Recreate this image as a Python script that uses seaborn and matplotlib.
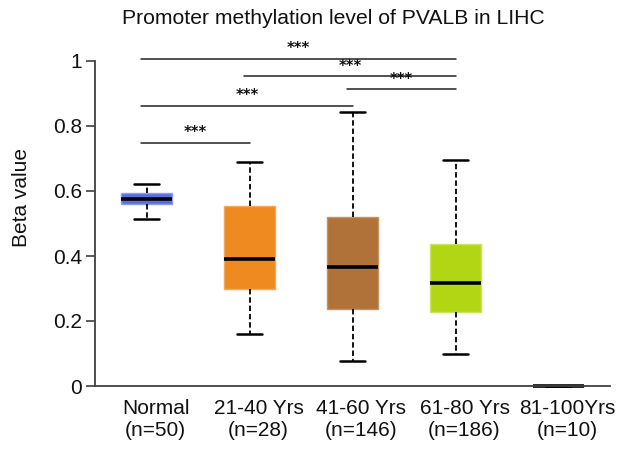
import numpy as np
import pandas as pd
import matplotlib
matplotlib.use("Agg")
import matplotlib.pyplot as plt
import matplotlib.transforms as mtransforms
import seaborn as sns

# Five-number summaries (min, Q1, median, Q3, max) of promoter beta values
groups = ["Normal", "21-40 Yrs", "41-60 Yrs", "61-80 Yrs", "81-100Yrs"]
counts = [50, 28, 146, 186, 10]
normal = [0.514, 0.559, 0.576, 0.593, 0.622]
age_21_40 = [0.160, 0.298, 0.392, 0.554, 0.688]
age_41_60 = [0.077, 0.237, 0.366, 0.521, 0.842]
age_61_80 = [0.098, 0.229, 0.316, 0.437, 0.695]
age_81_100 = [0.001, 0.001, 0.001, 0.001, 0.001]
colors = ["#5B6EE1", "#EF8A21", "#B07238", "#B3D614", "#1a1a1a"]
edge_colors = ["#8E9CF0", "#F3A85A", "#C59363", "#C9E65C", "#1a1a1a"]

# Significance brackets: (group a, group b, height, label)
sig_pairs = [(0, 1, 0.748, "***"), (0, 2, 0.862, "***"), (2, 3, 0.913, "***"),
             (1, 3, 0.953, "***"), (0, 3, 1.006, "***")]

yticks = [0, 0.2, 0.4, 0.6, 0.8, 1.0]
ytick_labels = ["0", "0.2", "0.4", "0.6", "0.8", "1"]

series = [normal, age_21_40, age_41_60, age_61_80, age_81_100]
df = pd.DataFrame({
    "group": np.repeat(groups, [len(s) for s in series]),
    "value": np.concatenate(series),
})

sns.set_style("ticks")
plt.rcParams["font.family"] = ["Liberation Sans", "DejaVu Sans"]

fig = plt.figure(figsize=(6.22, 4.58), dpi=100)
ax = fig.add_axes([95 / 622, 72 / 458, 515 / 622, 325 / 458])

sns.boxplot(
    data=df, x="group", y="value", hue="group", order=groups, hue_order=groups,
    palette=colors, saturation=1, whis=(0, 100), width=0.5, legend=False, ax=ax,
    linewidth=1.2,
    medianprops=dict(color="black", linewidth=2.6),
    whiskerprops=dict(color="black", linewidth=1.3, linestyle=(0, (3, 1.6))),
    capprops=dict(color="black", linewidth=1.8),
    showfliers=False,
)

for patch, ec in zip(ax.patches, edge_colors):
    patch.set_edgecolor(ec)
    patch.set_linewidth(1.0)
for artist in list(ax.lines) + list(ax.patches):
    artist.set_clip_on(False)

ax.set_xlim(-0.5, 4.5)
ax.set_ylim(0, 1)
ax.set_yticks(yticks)
ax.set_yticklabels(ytick_labels)
ax.set_xticks(range(len(groups)))
ax.set_xticklabels([f"{g}\n(n={n})" for g, n in zip(groups, counts)],
                   linespacing=1.25)
ax.tick_params(axis="x", length=0, pad=9, labelsize=15, colors="#111111")
ax.tick_params(axis="y", length=6.5, width=1.2, pad=3, labelsize=15,
               colors="#404040", labelcolor="#111111")
shift = mtransforms.ScaledTranslation(9 / 100, 0, fig.dpi_scale_trans)
for lab in ax.get_xticklabels():
    lab.set_transform(lab.get_transform() + shift)

for side in ["top", "right"]:
    ax.spines[side].set_visible(False)
for side in ["left", "bottom"]:
    ax.spines[side].set_color("#404040")
    ax.spines[side].set_linewidth(1.3)

ax.set_xlabel("")
ax.set_ylabel("Beta value", fontsize=15, color="#111111")
ax.yaxis.set_label_coords(-0.124, 0.58)

for a, b, h, txt in sig_pairs:
    ax.plot([a - 0.05, b], [h, h], color="#222222", lw=1.1, clip_on=False)
    ax.text((a - 0.05 + b) / 2, h + 0.008, txt, ha="center", va="bottom",
            fontsize=10.5, fontweight="bold", family="DejaVu Sans",
            color="#111111", clip_on=False)

fig.text(333 / 622, 1 - 18 / 458, "Promoter methylation level of PVALB in LIHC",
         ha="center", va="center", fontsize=15.2, color="#111111")

fig.savefig("out.png", dpi=100)
